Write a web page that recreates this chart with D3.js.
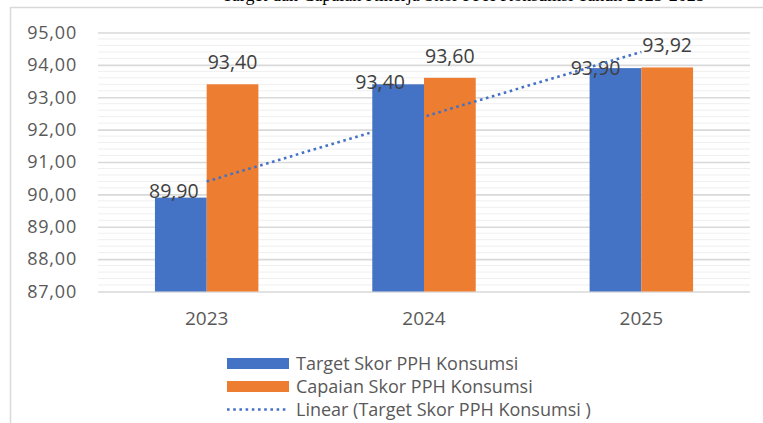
<!DOCTYPE html>
<html>
<head>
    <meta charset="UTF-8">
    <style>
        * { margin: 0; padding: 0; }
        body { background: #fff; width: 763px; height: 423px; overflow: hidden; }
        #chart { display: block; background: #fff; }
        text { font-family: "Open Sans", sans-serif; fill: #595959; }
    </style>
    <script src="https://d3js.org/d3.v7.min.js"></script>
    <title>Skor PPH Konsumsi</title>
</head>
<body>
<svg id="chart" width="763" height="423"></svg>
<script>
    // data
    var years = ["2023", "2024", "2025"];
    var target = [89.90, 93.40, 93.90];
    var capaian = [93.40, 93.60, 93.92];
    var seriesNames = ["Target Skor PPH Konsumsi", "Capaian Skor PPH Konsumsi",
        "Linear (Target Skor PPH Konsumsi )"];
    var yTicks = [87, 88, 89, 90, 91, 92, 93, 94, 95];

    // layout
    var blue = "#4472c4", orange = "#ed7d31";
    // the target labels sit a bit left of and into their bars in the original
    var targetNudge = [[-7, 0], [-18, 5], [-20, 7]];

    var svg = d3.select("#chart");
    var fmt = function (v) { return v.toFixed(2).replace(".", ","); };

    // title, cut off at the top edge like in the source picture
    svg.append("text")
        .attr("x", 222).attr("y", 0.5)
        .style("font-family", "'Liberation Serif', serif")
        .style("font-size", "18px")
        .style("fill", "#000")
        .text("Target dan Capaian Kinerja Skor PPH Konsumsi Tahun 2023-2025");

    // chart frame
    svg.append("path")
        .attr("d", "M10.5,423 V7.5 H763")
        .attr("fill", "none")
        .attr("stroke", "#d9d9d9")
        .attr("stroke-width", 1.5);

    var x = d3.scaleBand().domain(years).range([98, 750])
        .paddingInner(0.524).paddingOuter(0.262);
    var xs = d3.scaleBand().domain([0, 1]).range([0, x.bandwidth()]);
    var y = d3.scaleLinear().domain([87, 95]).range([291.5, 32.5]);

    // minor grid every 0.2
    var minor = d3.range(87, 95.001, 0.2).filter(function (v) {
        return Math.abs(v - Math.round(v)) > 0.01;
    });
    svg.append("g").selectAll("line").data(minor).enter().append("line")
        .attr("x1", 98).attr("x2", 750)
        .attr("y1", function (d) { return y(d); })
        .attr("y2", function (d) { return y(d); })
        .attr("stroke", "#efefef").attr("stroke-width", 1);

    // major grid + tick labels
    var yAxis = svg.append("g")
        .attr("transform", "translate(98,0)")
        .call(d3.axisLeft(y).tickValues(yTicks).tickFormat(fmt)
            .tickSize(-652).tickPadding(21));
    yAxis.select(".domain").remove();
    yAxis.selectAll("line").attr("stroke", "#d9d9d9").attr("stroke-width", 1.6);
    yAxis.selectAll("text").attr("fill", "#595959")
        .style("font-size", "18px").style("letter-spacing", "0.8px")
        .attr("font-family", null);

    // bars
    var groups = svg.append("g").selectAll("g").data(years).enter().append("g")
        .attr("transform", function (d) { return "translate(" + x(d) + ",0)"; });

    groups.append("rect")
        .attr("x", xs(0)).attr("width", xs.bandwidth())
        .attr("y", function (d, i) { return y(target[i]); })
        .attr("height", function (d, i) { return y(87) - y(target[i]); })
        .attr("fill", blue);

    groups.append("rect")
        .attr("x", xs(1)).attr("width", xs.bandwidth())
        .attr("y", function (d, i) { return y(capaian[i]); })
        .attr("height", function (d, i) { return y(87) - y(capaian[i]); })
        .attr("fill", orange);

    // linear trend of the target series
    var n = target.length, mx = (n - 1) / 2, my = d3.mean(target);
    var slope = d3.sum(target, function (v, i) { return (i - mx) * (v - my); }) /
        d3.sum(target, function (v, i) { return (i - mx) * (i - mx); });
    var trend = [0, n - 1].map(function (i) { return [i, my + slope * (i - mx)]; });
    svg.append("path")
        .datum(trend)
        .attr("d", d3.line()
            .x(function (d) { return x(years[d[0]]) + x.bandwidth() / 2; })
            .y(function (d) { return y(d[1]); }))
        .attr("fill", "none")
        .attr("stroke", blue)
        .attr("stroke-width", 2.6)
        .attr("stroke-dasharray", "2.6 3.6");

    // data labels
    groups.append("text")
        .attr("x", function (d, i) { return xs(0) + xs.bandwidth() / 2 + targetNudge[i][0]; })
        .attr("y", function (d, i) { return y(target[i]) + targetNudge[i][1]; })
        .attr("text-anchor", "middle")
        .style("font-size", "19.5px").style("fill", "#404040")
        .text(function (d, i) { return fmt(target[i]); });

    groups.append("text")
        .attr("x", xs(1) + xs.bandwidth() / 2)
        .attr("y", function (d, i) { return y(capaian[i]) - 15; })
        .attr("text-anchor", "middle")
        .style("font-size", "19.5px").style("fill", "#404040")
        .text(function (d, i) { return fmt(capaian[i]); });

    // x axis labels
    svg.append("g").selectAll("text").data(years).enter().append("text")
        .attr("x", function (d) { return x(d) + x.bandwidth() / 2; })
        .attr("y", 324.5)
        .attr("text-anchor", "middle")
        .style("font-size", "19px")
        .text(function (d) { return d; });

    // legend
    var legend = svg.append("g").attr("transform", "translate(227,0)");
    var rowY = [363.5, 386.5, 409.5];
    legend.append("rect").attr("x", 0).attr("y", rowY[0] - 5.5)
        .attr("width", 62).attr("height", 11).attr("fill", blue);
    legend.append("rect").attr("x", 0).attr("y", rowY[1] - 5.5)
        .attr("width", 62).attr("height", 11).attr("fill", orange);
    legend.append("line").attr("x1", 0).attr("x2", 62)
        .attr("y1", rowY[2]).attr("y2", rowY[2])
        .attr("stroke", blue).attr("stroke-width", 2.6)
        .attr("stroke-dasharray", "2.6 3.6");
    legend.selectAll("text.lbl").data(seriesNames).enter().append("text")
        .attr("class", "lbl")
        .attr("x", 69)
        .attr("y", function (d, i) { return rowY[i] + 6.5; })
        .style("font-size", "18px")
        .text(function (d) { return d; });
</script>
</body>
</html>
